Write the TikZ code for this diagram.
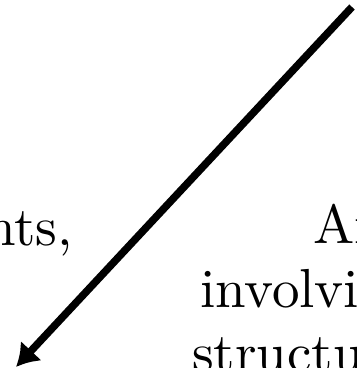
\documentclass[tikz,border=0pt]{standalone}
\usepackage{fontspec}
\usetikzlibrary{arrows.meta}
\newfontfamily\lmten{lmroman10-regular.otf}
\tikzset{
  lbl/.style={inner sep=0pt, anchor=base west, font=\lmten\fontsize{55}{64}\selectfont},
  bigarrow/.style={line width=7.5pt, -{Latex[length=22pt,width=29pt]}}
}
\begin{document}
\begin{tikzpicture}[x=1pt,y=-1pt]
\useasboundingbox (0,0) rectangle (357,368);
\clip (0,0) rectangle (357,368);
\node[lbl] (l1) at (-15,245) {nts,};
\node[lbl] (r1) at (313,243) {An};
\node[lbl] (r2) at (200,307) {involvi};
\node[lbl] (r3) at (192,371) {structu};
\coordinate (s) at (352,7);
\coordinate (t) at (16,367);
\draw[bigarrow] (s) -- (t);
\end{tikzpicture}
\end{document}
